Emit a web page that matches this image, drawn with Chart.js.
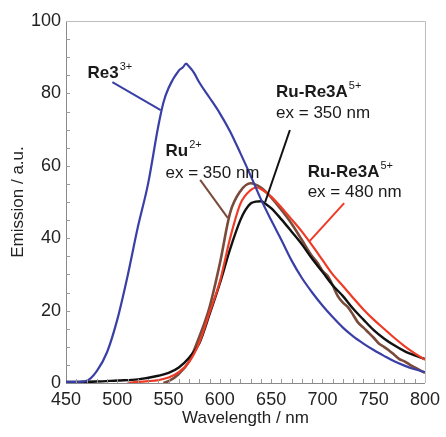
<!DOCTYPE html>
<html>
<head>
<meta charset="utf-8">
<script src="https://cdn.jsdelivr.net/npm/chart.js@4.4.1/dist/chart.umd.min.js"></script>
<style>
  html, body { margin: 0; padding: 0; background: #fff; }
</style>
</head>
<body>
<canvas id="grafico" width="446" height="437"></canvas>
<script>
// Longitud de onda (nm) y emisión (u.a.)
const wlRe3 = [450, 460, 470, 480, 490, 500, 510, 520, 530, 540, 545, 550, 560, 564, 567, 570, 575, 580, 590, 600, 610, 620, 630, 640, 650, 660, 670, 680, 690, 700, 710, 720, 730, 740, 750, 760, 770, 780, 790, 800];
const emRe3 = [0.3, 0.3, 0.6, 3.3, 8.5, 17.5, 29.5, 43, 55, 71, 77.5, 81.5, 86.3, 87.2, 88.2, 87.4, 85.6, 83, 78.8, 74.5, 69.5, 63.5, 57.3, 50.8, 45, 39.5, 33.8, 29, 25, 21.4, 18.2, 15.3, 12.9, 10.9, 9.1, 7.5, 6, 4.8, 3.8, 3];

const wlRuRe350 = [450, 460, 480, 500, 520, 540, 550, 560, 570, 580, 590, 600, 610, 620, 625, 630, 635, 640, 645, 650, 660, 670, 680, 690, 700, 710, 720, 730, 740, 750, 760, 770, 780, 790, 800];
const emRuRe350 = [0.3, 0.3, 0.4, 0.7, 1.0, 2, 2.8, 4.3, 7, 11, 19, 27.5, 37, 45, 47.8, 49.6, 50.1, 50.2, 49.4, 48.3, 45.2, 41.8, 38.3, 34.3, 30.7, 27, 24, 20.5, 17.5, 14.6, 12.3, 10.4, 8.8, 7.6, 6.6];

const wlRuRe480 = [510, 520, 530, 540, 550, 560, 570, 580, 590, 600, 610, 620, 630, 636, 640, 650, 660, 670, 680, 690, 700, 710, 720, 730, 740, 750, 760, 770, 780, 790, 800];
const emRuRe480 = [0, 0.3, 0.5, 0.8, 1.5, 3, 5.8, 11.2, 19.5, 28, 40, 49.5, 53.3, 54, 53.6, 51.5, 48.5, 45.2, 41.8, 38, 34, 30, 26.8, 23.5, 20.3, 17.5, 15, 12.5, 10.2, 8.2, 6.4];

const wlRu = [545, 550, 560, 570, 580, 590, 600, 610, 620, 630, 640, 650, 660, 670, 680, 690, 695, 700, 705, 710, 715, 720, 725, 730, 735, 740, 745, 750, 755, 760, 765, 770, 775, 780, 785, 790, 800];
const emRu = [0, 0.5, 2.5, 6, 12.8, 21, 33, 47, 53, 55.2, 54, 51.3, 47.8, 44, 39.5, 35, 33.3, 31, 29.6, 27, 24, 22.2, 20.9, 18.8, 16.6, 15.3, 13.9, 12.5, 10.9, 10, 9, 7.8, 6.6, 6, 5.1, 4.3, 2.8];

// Rótulos y líneas guía (en unidades de datos)
const rotulos = [
  { x: 471, y: 84.3, texto: "Re3", sup: "3+", negrita: true },
  { x: 547, y: 62.7, texto: "Ru", sup: "2+", negrita: true },
  { x: 547, y: 56.6, texto: "ex = 350 nm", sup: "", negrita: false },
  { x: 654.8, y: 79, texto: "Ru-Re3A", sup: "5+", negrita: true },
  { x: 654.8, y: 73.2, texto: "ex = 350 nm", sup: "", negrita: false },
  { x: 685.6, y: 56.9, texto: "Ru-Re3A", sup: "5+", negrita: true },
  { x: 685.6, y: 51.4, texto: "ex = 480 nm", sup: "", negrita: false }
];
const guias = [
  { desde: [495.2, 83.1], hasta: [542.3, 75.4], color: "#3a3fa6" },
  { desde: [580.8, 56.1], hasta: [607.7, 45.6], color: "#7a4a3a" },
  { desde: [668.3, 69.9], hasta: [644.2, 50], color: "#111111" },
  { desde: [721.2, 49.7], hasta: [687.5, 39.2], color: "#ee3b26" }
];

function puntos(xs, ys) {
  return xs.map((x, i) => ({ x: x, y: ys[i] }));
}

const pluginAnotaciones = {
  id: "anotaciones",
  afterDraw(chart) {
    const ctx = chart.ctx;
    const sx = chart.scales.x;
    const sy = chart.scales.y;
    const area = chart.chartArea;
    ctx.save();

    // Borde superior y derecho del área de trazado
    ctx.strokeStyle = "#bdbdbd";
    ctx.lineWidth = 1;
    ctx.beginPath();
    ctx.moveTo(area.left, area.top + 0.5);
    ctx.lineTo(area.right + 0.5, area.top + 0.5);
    ctx.lineTo(area.right + 0.5, area.bottom);
    ctx.stroke();

    // Marcas menores hacia adentro
    ctx.strokeStyle = "#9a9a9a";
    ctx.beginPath();
    for (let v = 5; v < 100; v += 5) {
      const py = Math.round(sy.getPixelForValue(v)) + 0.5;
      ctx.moveTo(area.left, py);
      ctx.lineTo(area.left + 4, py);
    }
    for (let v = 460; v < 800; v += 10) {
      const px = Math.round(sx.getPixelForValue(v)) + 0.5;
      ctx.moveTo(px, area.bottom);
      ctx.lineTo(px, area.bottom - 4);
    }
    ctx.stroke();

    // Líneas guía
    guias.forEach(g => {
      ctx.strokeStyle = g.color;
      ctx.lineWidth = 2;
      ctx.beginPath();
      ctx.moveTo(sx.getPixelForValue(g.desde[0]), sy.getPixelForValue(g.desde[1]));
      ctx.lineTo(sx.getPixelForValue(g.hasta[0]), sy.getPixelForValue(g.hasta[1]));
      ctx.stroke();
    });

    // Textos
    ctx.fillStyle = "#1a1a1a";
    ctx.textBaseline = "alphabetic";
    ctx.textAlign = "left";
    rotulos.forEach(r => {
      const px = sx.getPixelForValue(r.x);
      const py = sy.getPixelForValue(r.y);
      ctx.font = (r.negrita ? "bold " : "") + "17px 'Liberation Sans', Arial, sans-serif";
      ctx.fillText(r.texto, px, py);
      if (r.sup) {
        const w = ctx.measureText(r.texto).width;
        ctx.font = "11px 'Liberation Sans', Arial, sans-serif";
        ctx.fillText(r.sup, px + w + 1, py - 8);
      }
    });
    ctx.restore();
  }
};

const fuenteTicks = { family: "'Liberation Sans', Arial, sans-serif", size: 18 };
const fuenteTitulo = { family: "'Liberation Sans', Arial, sans-serif", size: 17 };

new Chart(document.getElementById("grafico"), {
  type: "line",
  data: {
    datasets: [
      { label: "Re3", data: puntos(wlRe3, emRe3), borderColor: "#3a3fa6", borderWidth: 2.2, order: 1 },
      { label: "Ru-Re3A ex480", data: puntos(wlRuRe480, emRuRe480), borderColor: "#ee3b26", borderWidth: 2.2, order: 2 },
      { label: "Ru-Re3A ex350", data: puntos(wlRuRe350, emRuRe350), borderColor: "#111111", borderWidth: 2.4, order: 3 },
      { label: "Ru", data: puntos(wlRu, emRu), borderColor: "#7a4a3a", borderWidth: 2.6, order: 4 }
    ]
  },
  options: {
    responsive: false,
    animation: false,
    layout: { padding: { top: 21, right: 16, left: 0, bottom: 0 } },
    elements: {
      point: { radius: 0 },
      line: { cubicInterpolationMode: "monotone", fill: false, borderJoinStyle: "round" }
    },
    plugins: {
      legend: { display: false },
      tooltip: { enabled: false }
    },
    scales: {
      x: {
        type: "linear",
        min: 450,
        max: 800,
        ticks: { stepSize: 50, padding: 6, color: "#222", font: fuenteTicks, maxRotation: 0 },
        grid: { display: false, drawTicks: false },
        border: { color: "#8a8a8a", width: 1 },
        title: { display: true, text: "Wavelength / nm", color: "#222", font: fuenteTitulo, padding: { top: 0, bottom: 8 } },
        afterFit(scale) { scale.height = 54; }
      },
      y: {
        min: 0,
        max: 100,
        ticks: { stepSize: 20, padding: 5, color: "#222", font: fuenteTicks },
        grid: { display: false, drawTicks: false },
        border: { color: "#8a8a8a", width: 1 },
        title: { display: true, text: "Emission / a.u.", color: "#222", font: fuenteTitulo, padding: { top: 8, bottom: 0 } },
        afterFit(scale) { scale.width = 66; }
      }
    }
  },
  plugins: [pluginAnotaciones]
});
</script>
</body>
</html>
